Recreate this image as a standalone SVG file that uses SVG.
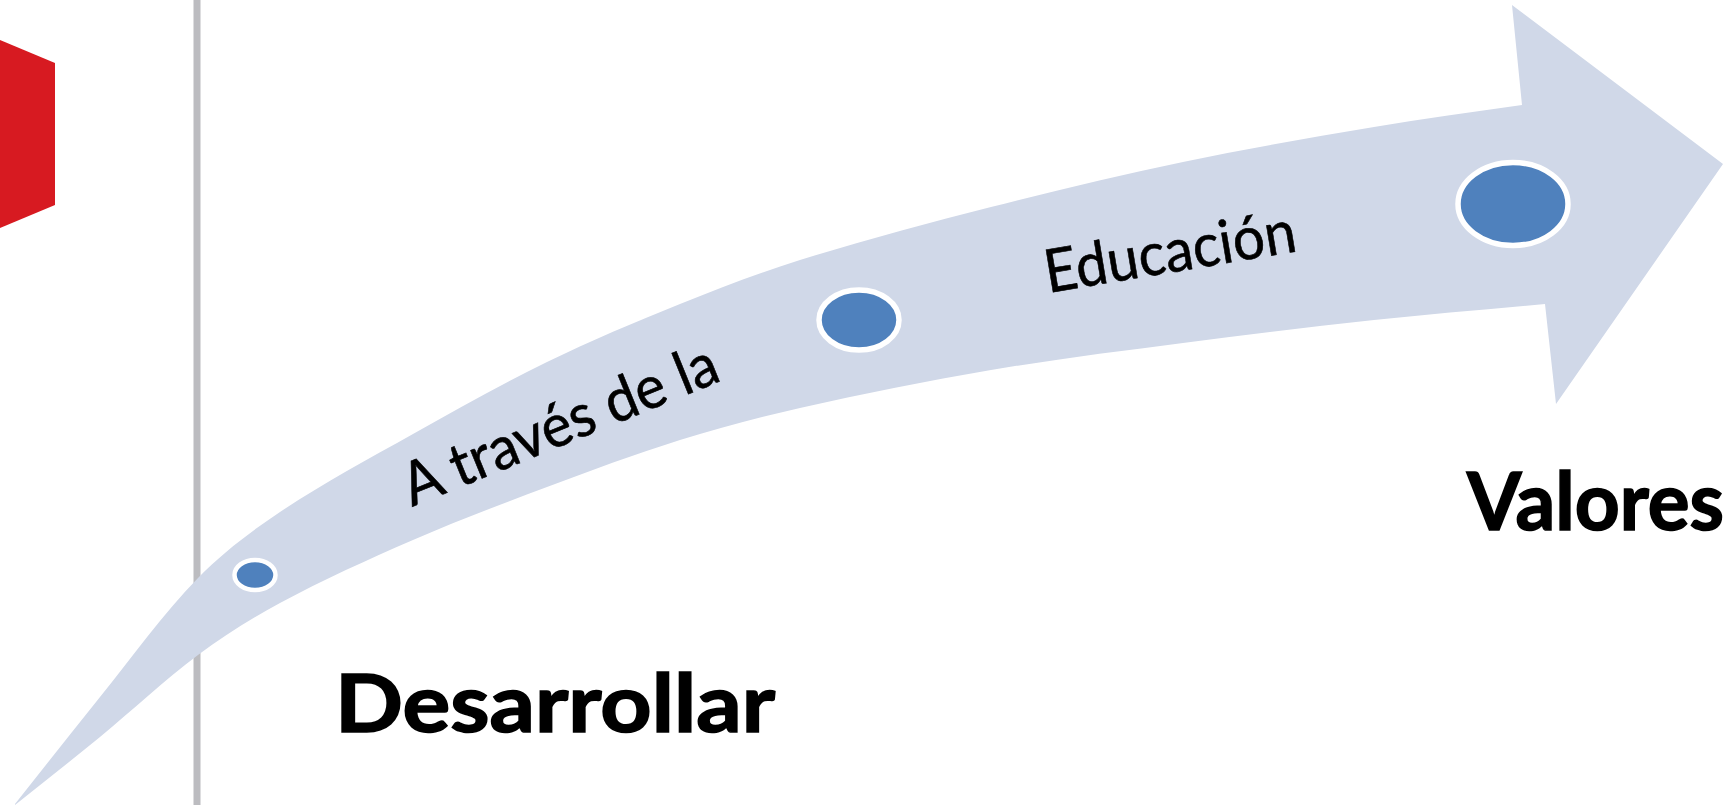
<svg xmlns="http://www.w3.org/2000/svg" width="1729" height="805" viewBox="0 0 1729 805">
  <style>
    .dot { fill: #4F81BD; stroke: #FFFFFF; }
    .lbl { font-family: Lato, "Open Sans", "Liberation Sans", sans-serif; fill: #000000; }
    .big { font-weight: 700; font-size: 80px; stroke: #000000; stroke-width: 1.6px; }
    .curve { font-weight: 400; font-size: 60px; stroke: #000000; stroke-width: 0.6px; }
  </style>
  <rect x="0" y="0" width="1729" height="805" fill="#FFFFFF"/>
  <g id="red-tab">
    <polygon points="0,40 55,63 55,205 0,228" fill="#D71A21"/>
  </g>
  <g id="divider">
    <rect x="193.5" y="0" width="7" height="805" fill="#BCBCC0"/>
  </g>
  <g id="connectors">
    <path id="curved-arrow" fill="#D0D8E8" d="M15,804 C43.3,768.4 71.4,732.4 100,697 C132.3,657.1 162.2,614.9 198,578 C222.5,552.8 250.8,531.5 280,512 C322.7,483.4 368.2,459.2 413,434 C457.2,409.2 501.4,384.2 547,362 C590.5,340.8 635.1,322.1 680,304 C719.5,288.1 759.3,272.7 800,260 C863.1,240.3 926.9,223.4 991,207 C1054.7,190.7 1118.7,175.4 1183,162 C1246.3,148.8 1310.2,137.7 1374,127 C1423.2,118.7 1472.6,112.3 1522,105 L1512,5 L1723,164 L1556,404 L1545,304 C1488,309.3 1430.9,313.9 1374,320 C1310.3,326.9 1246.5,334.7 1183,343 C1119,351.3 1054.7,359.2 991,370 C927,380.8 863.3,393.7 800,408 C759.6,417.1 719.5,427.7 680,440 C635.1,454 591,470.5 547,487 C502.1,503.8 457,520.9 413,540 C368,559.5 323.3,579.8 280,603 C251.4,618.3 224,635.7 198,655 C163.8,680.4 132.9,710 100,737 C71.9,760 43.4,782.3 15,805 Z"/>
  </g>
  <g id="node-start">
    <ellipse class="dot" cx="255" cy="575" rx="20.5" ry="15" stroke-width="4.5"/>
  </g>
  <g id="node-middle">
    <ellipse class="dot" cx="859" cy="320" rx="40" ry="30" stroke-width="5.5"/>
  </g>
  <g id="node-end">
    <ellipse class="dot" cx="1513" cy="204" rx="55" ry="41.5" stroke-width="5.5"/>
  </g>
  <g id="label-a-traves">
    <text class="lbl curve" transform="translate(412,507) rotate(-22.2)" x="0" y="0" textLength="336" lengthAdjust="spacingAndGlyphs">A través de la</text>
  </g>
  <g id="label-educacion">
    <text class="lbl curve" transform="translate(1048,293) rotate(-9.5)" x="0" y="0" textLength="254" lengthAdjust="spacingAndGlyphs">Educación</text>
  </g>
  <g id="label-desarrollar">
    <text class="lbl big" x="335" y="732" textLength="440" lengthAdjust="spacingAndGlyphs">Desarrollar</text>
  </g>
  <g id="label-valores">
    <text class="lbl big" x="1467" y="530" textLength="257" lengthAdjust="spacingAndGlyphs">Valores</text>
  </g>
</svg>
